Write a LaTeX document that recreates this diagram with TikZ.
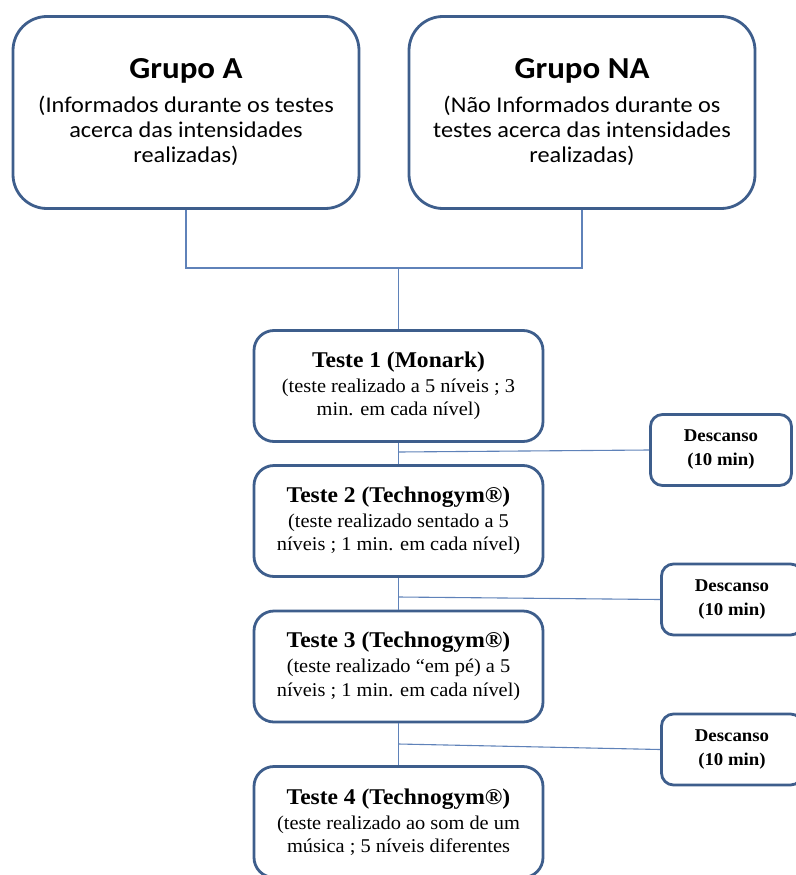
\documentclass[tikz,border=0pt]{standalone}
\usepackage{fontspec}
\setmainfont[FakeStretch=1.045]{Liberation Serif}
\newfontfamily\calibri[FakeStretch=1.08]{Carlito}
\definecolor{caixacor}{RGB}{62,94,140}
\definecolor{linhacor}{RGB}{95,130,185}
\tikzset{
  grupo/.style={draw=caixacor, line width=2.8pt, rounded corners=34pt, fill=white,
    align=center, inner sep=0pt, minimum width=346pt, minimum height=192pt,
    font=\calibri\fontsize{22.5}{25}\selectfont},
  teste/.style={draw=caixacor, line width=2.8pt, rounded corners=20pt, fill=white,
    align=center, inner sep=0pt, minimum width=289pt, minimum height=111pt,
    font=\fontsize{19.5}{23.5}\selectfont},
  pausa/.style={draw=caixacor, line width=2.8pt, rounded corners=12pt, fill=white,
    align=center, inner sep=0pt, minimum width=141pt, minimum height=71pt,
    font=\bfseries\fontsize{18}{24}\selectfont},
  liga/.style={draw=linhacor, line width=1.1pt}
}
\newcommand\titulo[1]{{\bfseries\fontsize{22.5}{26}\selectfont #1}\\[1.5pt]}
\newcommand\descanso[3]{
  \node[pausa] (#1) at (#2,#3) {Descanso\\(10 min)};
}

\begin{document}
\begin{tikzpicture}[x=1pt, y=-1pt]
\useasboundingbox (0,0) rectangle (795,875);

\node[grupo] (grupoA) at (186,112.5)
  {{\bfseries\fontsize{30.5}{33}\selectfont Grupo A}\\[9pt]
   (Informados durante os testes\\acerca das intensidades\\realizadas)};
\node[grupo] (grupoNA) at (582,112.5)
  {{\bfseries\fontsize{30.5}{33}\selectfont Grupo NA}\\[9pt]
   (Não Informados durante os\\testes acerca das intensidades\\realizadas)};

\node[teste] (teste1) at (398.5,386)
  {\titulo{Teste 1 (Monark)}(teste realizado a 5 níveis ; 3\\min. em cada nível)};
\node[teste] (teste2) at (398.5,521)
  {\titulo{Teste 2 (Technogym®)}(teste realizado sentado a 5\\níveis ; 1 min. em cada nível)};
\node[teste] (teste3) at (398.5,666.5)
  {\titulo{Teste 3 (Technogym®)}(teste realizado “em pé) a 5\\níveis ; 1 min. em cada nível)};
\node[teste] (teste4) at (398.5,822)
  {\titulo{Teste 4 (Technogym®)}(teste realizado ao som de um\\música ; 5 níveis diferentes};

\descanso{pausa1}{721}{450}
\descanso{pausa2}{732}{599.5}
\descanso{pausa3}{732}{749.5}

\coordinate (juncao) at (398.5,268);
\coordinate (r1) at (398.5,452);
\coordinate (r2) at (398.5,597);
\coordinate (r3) at (398.5,744);

\draw[liga] (grupoA.south) |- (juncao) -| (grupoNA.south);
\draw[liga] (juncao) -- (teste1.north);
\draw[liga] (teste1.south) -- (teste2.north);
\draw[liga] (teste2.south) -- (teste3.north);
\draw[liga] (teste3.south) -- (teste4.north);
\draw[liga] (r1) -- (pausa1.west);
\draw[liga] (r2) -- (pausa2.west);
\draw[liga] (r3) -- (pausa3.west);
\end{tikzpicture}
\end{document}
